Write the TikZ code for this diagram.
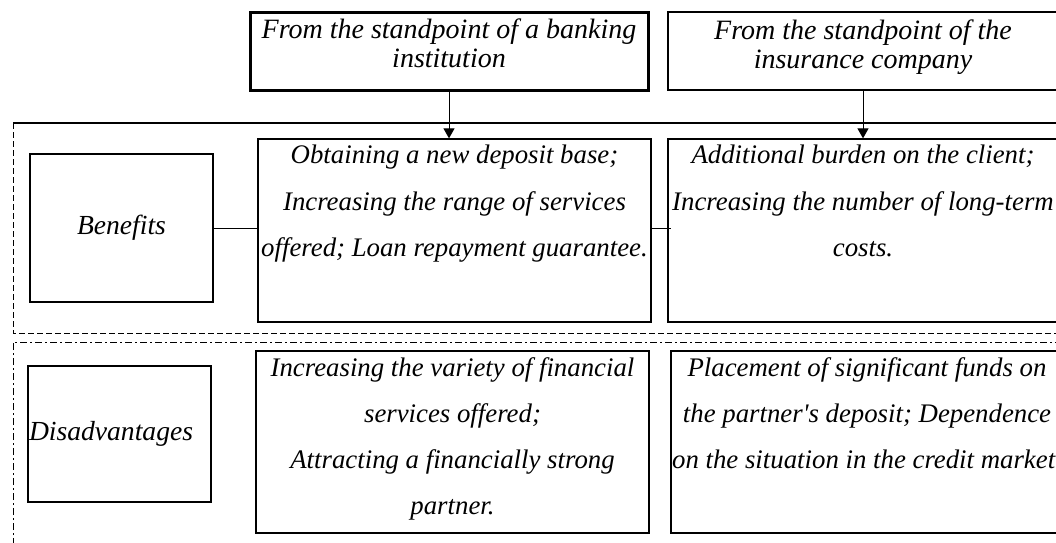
\documentclass[tikz,border=0pt]{standalone}
\usepackage{fontspec}
\setmainfont{Liberation Serif}
\usetikzlibrary{arrows.meta,positioning}

\tikzset{
  box/.style={draw, line width=1.3pt, inner sep=0pt},
  bodytext/.style={align=center, font=\itshape\fontsize{26.8}{46.3}\selectfont, inner sep=0pt},
  sidetext/.style={font=\itshape\fontsize{27.6}{30}\selectfont},
  headtext/.style={align=center, font=\itshape\fontsize{28}{29}\selectfont, inner sep=0pt},
  arr/.style={line width=1pt, -{Triangle[width=11pt,length=10pt]}}
}

\begin{document}
\begin{tikzpicture}[x=1pt,y=-1pt]
\clip (0,0) rectangle (1056,542);
% areas of benefits and disadvantages
\draw[dash pattern=on 6pt off 3pt] (13,123) -- (13,333) -- (1070,333);
\draw[line width=1.3pt] (13,123) -- (1070,123);
\draw[dash pattern=on 7pt off 3pt on 2pt off 3pt] (13,560) -- (13,342) -- (1070,342);
% standpoints
\node[box, line width=3pt, minimum width=398, minimum height=78] (bank) at (449,51) {};
\node[headtext, anchor=north] (banktxt) at ([yshift=-8.5pt]bank.north) {From the standpoint of a banking\\institution};
\node[box, minimum width=390, minimum height=78] (insur) at (863,51) {};
\node[headtext, anchor=north] (insurtxt) at ([yshift=-8.5pt]insur.north) {From the standpoint of the\\insurance company};
% benefits
\node[box, sidetext, minimum width=183, minimum height=148] (benefits) at (121.5,228) {Benefits};
\node[box, minimum width=393, minimum height=183] (bnkplus) at (454.5,230.5) {};
\node[bodytext, anchor=north] (bnkplustxt) at ([yshift=-6.6pt]bnkplus.north) {Obtaining a new deposit base;\\Increasing the range of services\\offered; Loan repayment guarantee.};
\node[box, minimum width=390, minimum height=183] (insplus) at (863,230.5) {};
\node[bodytext, anchor=north] (insplustxt) at ([yshift=-6.6pt]insplus.north) {Additional burden on the client;\\Increasing the number of long-term\\costs.};
% disadvantages
\node[box, sidetext, text width=181pt, align=left, inner xsep=1pt, inner ysep=0pt, minimum height=136] (disadv) at (119.5,434) {Disadvantages};
\node[box, minimum width=393, minimum height=182] (bnkminus) at (452.5,442) {};
\node[bodytext, anchor=north] (bnkminustxt) at ([yshift=-6.6pt]bnkminus.north) {Increasing the variety of financial\\services offered;\\Attracting a financially strong\\partner.};
\node[box, minimum width=392, minimum height=182] (insminus) at (867,442) {};
\node[bodytext, anchor=north] (insminustxt) at ([yshift=-6.6pt]insminus.north) {Placement of significant funds on\\the partner\textquotesingle s deposit; Dependence\\on the situation in the credit market.};
% connectors
\draw[arr] (bank.south) -- (bank.south |- bnkplus.north);
\draw[arr] (insur.south) -- (insplus.north);
\draw[line width=1pt] (benefits.east) -- (benefits.east -| bnkplus.west);
\draw[line width=1pt] (bnkplus.east |- benefits.east) -- ([xshift=4pt]insplus.west |- benefits.east);
\end{tikzpicture}
\end{document}
